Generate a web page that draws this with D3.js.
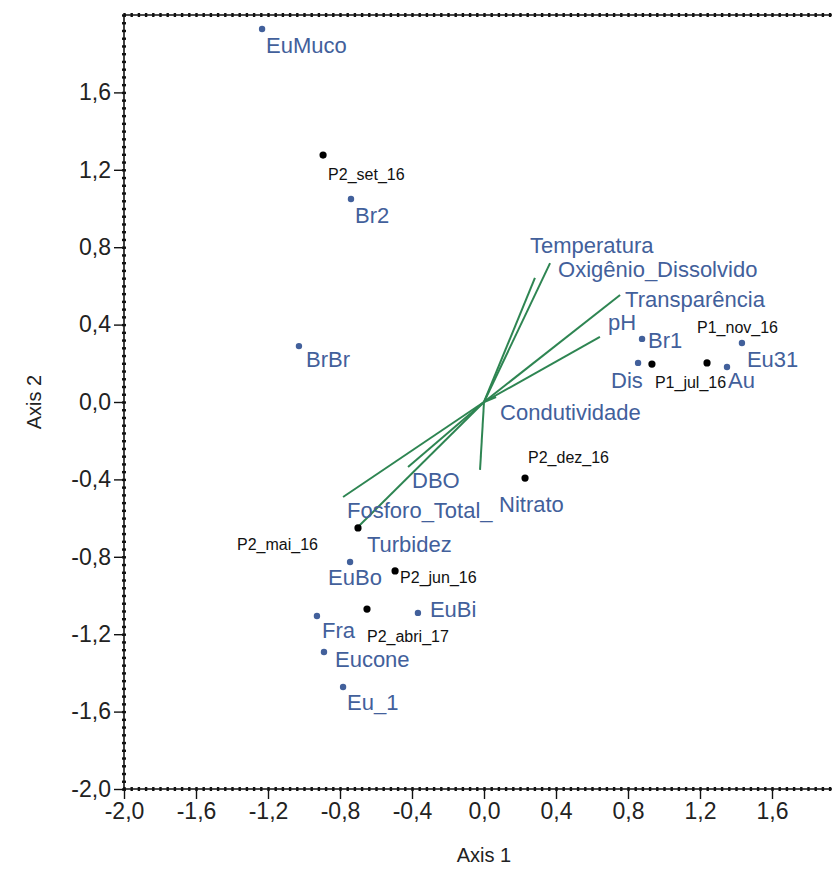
<!DOCTYPE html>
<html>
<head>
<meta charset="utf-8">
<script src="https://cdn.jsdelivr.net/npm/d3@7"></script>
<style>
  html, body { margin: 0; padding: 0; background: #fff; }
  svg { display: block; }
</style>
</head>
<body>
<svg id="chart" width="832" height="872"></svg>
<script>
// ---- Data ----
const xTicks = [-2.0, -1.6, -1.2, -0.8, -0.4, 0.0, 0.4, 0.8, 1.2, 1.6];
const yTicks = [-2.0, -1.6, -1.2, -0.8, -0.4, 0.0, 0.4, 0.8, 1.2, 1.6];

const speciesNames = ["EuMuco", "Br2", "BrBr", "Br1", "Dis", "Au", "Eu31", "EuBo", "EuBi", "Fra", "Eucone", "Eu_1"];
const speciesX     = [-1.233, -0.739, -1.028, 0.878, 0.856, 1.350, 1.433, -0.744, -0.367, -0.928, -0.889, -0.783];
const speciesY     = [ 1.928,  1.049,  0.289, 0.326, 0.202, 0.181, 0.305, -0.827, -1.090, -1.106, -1.292, -1.473];

const sampleNames = ["P2_set_16", "P1_jul_16", "P1_nov_16", "P2_dez_16", "P2_mai_16", "P2_jun_16", "P2_abri_17"];
const sampleX     = [-0.894, 0.933, 1.239, 0.228, -0.700, -0.494, -0.650];
const sampleY     = [ 1.276, 0.196, 0.202, -0.393, -0.651, -0.873, -1.070];

const vectorNames = ["Temperatura", "Oxigênio_Dissolvido", "Transparência", "pH", "Condutividade", "DBO", "Nitrato", "Fosforo_Total_", "Turbidez"];
const vectorX     = [0.283, 0.367, 0.756, 0.644, 0.067, -0.422, -0.022, -0.783, -0.706];
const vectorY     = [0.641, 0.718, 0.553, 0.336, 0.026, -0.336, -0.351, -0.491, -0.651];

// ---- Layout / style ----
const labelOffsets = {
  "EuMuco": [4, 24], "Br2": [4, 24], "BrBr": [7, 21], "Br1": [6, 9], "Dis": [-27, 25],
  "Au": [1, 21], "Eu31": [5, 24], "EuBo": [-22, 23], "EuBi": [12, 4], "Fra": [5, 22],
  "Eucone": [11, 15], "Eu_1": [4, 23],
  "P2_set_16": [5, 25], "P1_jul_16": [3, 24], "P1_nov_16": [-10, -30], "P2_dez_16": [3, -15],
  "P2_mai_16": [-121, 22], "P2_jun_16": [5, 12], "P2_abri_17": [0, 33],
  "Temperatura": [-5, -25], "Oxigênio_Dissolvido": [8, 14], "Transparência": [5, 12],
  "pH": [8, -7], "Condutividade": [4, 23], "DBO": [4, 21], "Nitrato": [19, 42],
  "Fosforo_Total_": [4, 21], "Turbidez": [10, 24]
};
const FONT = "'Liberation Sans', Arial, Helvetica, sans-serif";
const blue = "#42609b";
const green = "#2e8552";

const svg = d3.select("#chart");
const x = d3.scaleLinear().domain([-2, 2]).range([124, 844]);
const y = d3.scaleLinear().domain([-2, 2]).range([789, 15]);

const fmtLocale = d3.formatLocale({decimal: ",", thousands: ".", grouping: [3], currency: ["", ""], minus: "-"});
const fmt = fmtLocale.format(".1f");

const minorX = d3.range(-2, 2.0001, 0.04).map(v => +v.toFixed(2));
const minorY = d3.range(-2, 2.0001, 0.04).map(v => +v.toFixed(2));

// Frame lines
const frame = svg.append("g");
frame.append("line").attr("x1", x(-2)).attr("x2", x(2)).attr("y1", y(-2)).attr("y2", y(-2))
  .attr("stroke", "#111").attr("stroke-width", 1.6);
frame.append("line").attr("x1", x(-2)).attr("x2", x(2)).attr("y1", y(2)).attr("y2", y(2))
  .attr("stroke", "#111").attr("stroke-width", 1.6);
frame.append("line").attr("x1", x(-2)).attr("x2", x(-2)).attr("y1", y(-2)).attr("y2", y(2))
  .attr("stroke", "#111").attr("stroke-width", 1.6);

// Minor ticks (dotted look)
function minorStyle(g) {
  g.select(".domain").remove();
  g.selectAll(".tick line").attr("stroke", "#111").attr("stroke-width", 2.4);
  g.selectAll("text").remove();
}
svg.append("g").attr("transform", `translate(0,${y(-2) - 2})`)
  .call(d3.axisBottom(x).tickValues(minorX).tickSizeInner(4).tickSizeOuter(0).tickFormat(""))
  .call(minorStyle);
svg.append("g").attr("transform", `translate(0,${y(2) - 2})`)
  .call(d3.axisBottom(x).tickValues(minorX).tickSizeInner(4).tickSizeOuter(0).tickFormat(""))
  .call(minorStyle);
svg.append("g").attr("transform", `translate(${x(-2) - 2},0)`)
  .call(d3.axisRight(y).tickValues(minorY).tickSizeInner(4).tickSizeOuter(0).tickFormat(""))
  .call(minorStyle);

// Major axes
const xAxis = svg.append("g").attr("transform", `translate(0,${y(-2)})`)
  .call(d3.axisBottom(x).tickValues(xTicks).tickFormat(fmt).tickSizeInner(10).tickSizeOuter(0).tickPadding(4));
const yAxis = svg.append("g").attr("transform", `translate(${x(-2)},0)`)
  .call(d3.axisLeft(y).tickValues(yTicks).tickFormat(fmt).tickSizeInner(10).tickSizeOuter(0).tickPadding(3));
[xAxis, yAxis].forEach(g => {
  g.select(".domain").remove();
  g.selectAll(".tick line").attr("stroke", "#111").attr("stroke-width", 1.4);
  g.selectAll(".tick text").attr("font-family", FONT).attr("font-size", 23).attr("fill", "#222");
});

// Axis titles
svg.append("text").attr("x", x(0)).attr("y", 862).attr("text-anchor", "middle")
  .attr("font-family", FONT).attr("font-size", 20).attr("fill", "#222").text("Axis 1");
svg.append("text").attr("transform", `translate(41,${y(0)}) rotate(-90)`).attr("text-anchor", "middle")
  .attr("font-family", FONT).attr("font-size", 20).attr("fill", "#222").text("Axis 2");

// Vectors
const vectors = vectorNames.map((n, i) => ({name: n, x: vectorX[i], y: vectorY[i]}));
svg.append("g").selectAll("line").data(vectors).join("line")
  .attr("x1", x(0)).attr("y1", y(0))
  .attr("x2", d => x(d.x)).attr("y2", d => y(d.y))
  .attr("stroke", green).attr("stroke-width", 2);
svg.append("g").selectAll("text").data(vectors).join("text")
  .attr("x", d => x(d.x) + labelOffsets[d.name][0])
  .attr("y", d => y(d.y) + labelOffsets[d.name][1])
  .attr("font-family", FONT).attr("font-size", 22).attr("fill", blue)
  .text(d => d.name);

// Species points
const species = speciesNames.map((n, i) => ({name: n, x: speciesX[i], y: speciesY[i]}));
svg.append("g").selectAll("circle").data(species).join("circle")
  .attr("cx", d => x(d.x)).attr("cy", d => y(d.y)).attr("r", 3.2).attr("fill", blue);
svg.append("g").selectAll("text").data(species).join("text")
  .attr("x", d => x(d.x) + labelOffsets[d.name][0])
  .attr("y", d => y(d.y) + labelOffsets[d.name][1])
  .attr("font-family", FONT).attr("font-size", 22).attr("fill", blue)
  .text(d => d.name);

// Sample points
const samples = sampleNames.map((n, i) => ({name: n, x: sampleX[i], y: sampleY[i]}));
svg.append("g").selectAll("circle").data(samples).join("circle")
  .attr("cx", d => x(d.x)).attr("cy", d => y(d.y)).attr("r", 3.6).attr("fill", "#000");
svg.append("g").selectAll("text").data(samples).join("text")
  .attr("x", d => x(d.x) + labelOffsets[d.name][0])
  .attr("y", d => y(d.y) + labelOffsets[d.name][1])
  .attr("font-family", FONT).attr("font-size", 16).attr("fill", "#111")
  .text(d => d.name);
</script>
</body>
</html>
